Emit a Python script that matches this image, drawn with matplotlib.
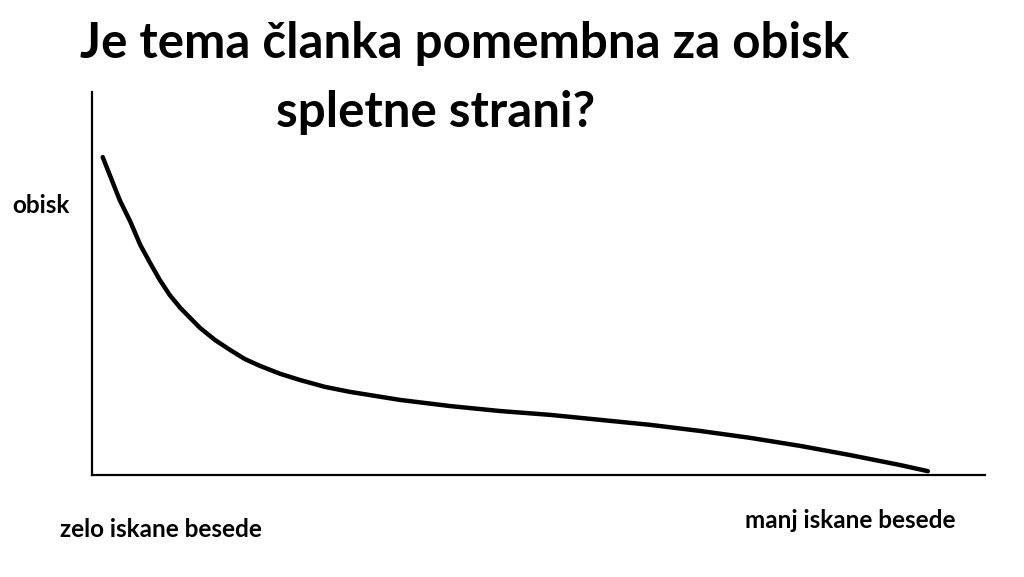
# Je tema članka pomembna za obisk spletne strani? - skica krivulje

import matplotlib.pyplot as plt

plt.rcParams["font.family"] = ["Lato", "DejaVu Sans"]

# krivulja obiska (0..100 na obeh oseh, odčitano s slike)
x_vals = [1.2, 3.1, 4.3, 5.4, 6.5, 7.6, 8.7, 9.9, 11.0, 12.1, 13.8, 15.5, 17.1, 18.8,
          21.1, 23.3, 26.1, 28.9, 34.5, 40.1, 45.7, 51.3, 56.9, 62.5, 68.1, 73.7,
          79.3, 84.9, 90.5, 93.6]
y_vals = [83.0, 71.8, 66.1, 60.1, 55.4, 50.9, 47.0, 43.6, 41.0, 38.4, 35.2, 32.6, 30.3, 28.5,
          26.4, 24.8, 23.0, 21.7, 19.6, 18.0, 16.7, 15.7, 14.4, 13.1, 11.5, 9.7,
          7.6, 5.2, 2.6, 1.0]

title_lines = ["Je tema članka pomembna za obisk", "spletne strani?"]
y_label = "obisk"
x_left_label = "zelo iskane besede"
x_right_label = "manj iskane besede"

W, H = 1024, 577
fig = plt.figure(figsize=(W / 100, H / 100), dpi=100)
ax = fig.add_axes([92 / W, 1 - 475 / H, (985 - 92) / W, (475 - 92) / H])

ax.plot(x_vals, y_vals, color="black", lw=3.2, solid_capstyle="round", solid_joinstyle="round")
ax.set_xlim(0, 100)
ax.set_ylim(0, 100)
ax.set_xticks([])
ax.set_yticks([])
for s in ["top", "right"]:
    ax.spines[s].set_visible(False)
for s in ["left", "bottom"]:
    ax.spines[s].set_linewidth(1.6)

fig.text(80 / W, 1 - 58 / H, title_lines[0], fontsize=35.5, fontweight="bold", va="baseline", ha="left")
fig.text(276 / W, 1 - 127 / H, title_lines[1], fontsize=35.5, fontweight="bold", va="baseline", ha="left")
fig.text(12 / W, 1 - 213 / H, y_label, fontsize=17.5, fontweight="bold", va="baseline", ha="left")
fig.text(60 / W, 1 - 537 / H, x_left_label, fontsize=17.5, fontweight="bold", va="baseline", ha="left")
fig.text(745 / W, 1 - 528 / H, x_right_label, fontsize=17.5, fontweight="bold", va="baseline", ha="left")

fig.savefig("out.png", dpi=100)
